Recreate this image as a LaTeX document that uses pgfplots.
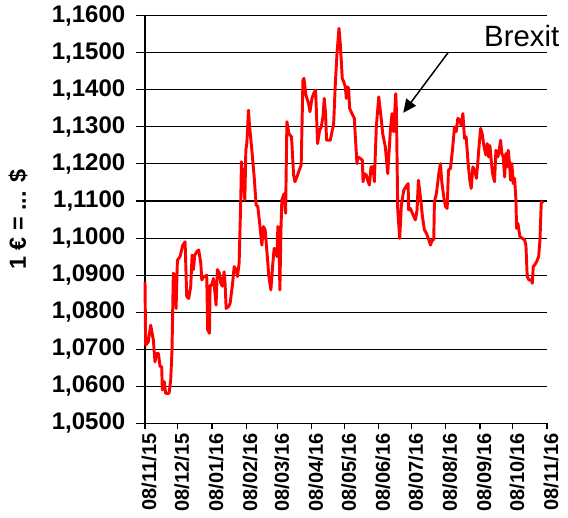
\documentclass[border=0pt]{standalone}
\usepackage{pgfplots}
\pgfplotsset{compat=1.18}
\usepackage{fontspec}
\setmainfont{Liberation Sans}
\usetikzlibrary{arrows.meta}
\pgfplotstableread{
day val
0 1.0882
0.6 1.0711
3.0 1.0720
5.2 1.0765
7.6 1.0725
9.1 1.0666
10.6 1.0689
12.2 1.0689
13.7 1.0653
15.2 1.0653
15.8 1.0590
17.6 1.0612
18.8 1.0581
21.9 1.0581
23.4 1.0617
24.6 1.0698
25.8 1.0905
27.1 1.0900
28.3 1.0810
29.5 1.0940
31.9 1.0950
34.3 1.0980
36.5 1.0990
38.0 1.0842
39.8 1.0837
41.6 1.0869
42.9 1.0954
44.1 1.0915
45.3 1.0954
47.1 1.0963
48.9 1.0968
50.8 1.0932
51.7 1.0887
53.2 1.0896
54.7 1.0896
56.2 1.0900
57.1 1.0752
58.7 1.0743
59.3 1.0873
60.8 1.0873
62.3 1.0891
63.8 1.0850
64.7 1.0819
65.9 1.0915
67.8 1.0905
69.0 1.0878
70.5 1.0870
72.0 1.0909
72.9 1.0878
73.9 1.0810
76.0 1.0815
77.5 1.0824
79.6 1.0873
81.2 1.0923
83.0 1.0915
84.2 1.0896
85.7 1.0932
87.2 1.1103
87.8 1.1206
89.7 1.1147
90.9 1.1103
91.8 1.1237
92.7 1.1255
94.2 1.1345
95.1 1.1305
97.3 1.1237
99.4 1.1165
101.2 1.1089
102.7 1.1085
104.9 1.1026
106.4 1.0981
107.9 1.1031
109.4 1.1022
111.6 1.0941
112.8 1.0896
114.6 1.0860
116.4 1.0932
117.6 1.0972
119.1 1.0968
120.1 1.0950
121.0 1.1031
121.9 1.1022
122.8 1.0860
123.7 1.1013
124.6 1.1103
126.7 1.1120
128.0 1.1067
129.2 1.1314
131.0 1.1282
133.4 1.1273
135.3 1.1170
136.5 1.1152
138.3 1.1165
140.4 1.1183
142.2 1.1197
143.8 1.1426
144.7 1.1431
146.5 1.1386
148.9 1.1363
150.2 1.1341
152.0 1.1377
153.5 1.1390
155.3 1.1399
155.9 1.1354
157.1 1.1255
159.0 1.1291
160.5 1.1300
162.0 1.1327
163.2 1.1377
164.4 1.1336
165.3 1.1264
167.5 1.1264
168.7 1.1264
170.5 1.1291
171.7 1.1305
173.3 1.1417
174.8 1.1498
176.6 1.1566
177.8 1.1525
179.6 1.1431
180.9 1.1422
182.4 1.1408
183.3 1.1377
184.5 1.1408
185.4 1.1404
186.3 1.1350
188.4 1.1336
190.6 1.1323
191.5 1.1273
193.0 1.1201
193.6 1.1219
196.0 1.1215
197.9 1.1210
198.5 1.1152
199.7 1.1174
201.5 1.1170
202.7 1.1156
204.3 1.1143
205.8 1.1192
207.6 1.1192
208.8 1.1152
210.6 1.1300
212.8 1.1381
214.9 1.1327
216.4 1.1282
218.8 1.1246
221.0 1.1174
223.4 1.1291
224.9 1.1336
226.4 1.1287
228.3 1.1390
228.9 1.1345
230.1 1.1076
231.9 1.0999
233.4 1.1089
235.6 1.1129
237.4 1.1138
239.5 1.1147
240.1 1.1076
241.6 1.1080
244.1 1.1062
246.2 1.1049
247.7 1.1076
248.9 1.1156
250.8 1.1111
252.6 1.1058
254.4 1.1022
256.2 1.1013
258.4 1.0995
259.9 1.0981
261.4 1.0995
262.9 1.0995
263.5 1.1098
265.3 1.1120
267.5 1.1174
269.0 1.1201
270.2 1.1152
272.0 1.1111
273.6 1.1085
275.1 1.1080
276.3 1.1183
278.1 1.1188
279.9 1.1237
281.8 1.1300
283.3 1.1287
284.8 1.1323
286.6 1.1318
287.8 1.1305
289.4 1.1336
290.9 1.1269
292.4 1.1273
294.2 1.1201
295.7 1.1156
297.0 1.1134
298.5 1.1192
300.0 1.1183
301.8 1.1161
303.6 1.1228
305.5 1.1296
307.0 1.1282
308.5 1.1250
310.3 1.1224
311.6 1.1255
312.8 1.1219
314.0 1.1250
315.2 1.1210
316.4 1.1174
318.2 1.1152
319.5 1.1237
321.3 1.1219
322.5 1.1237
323.7 1.1264
324.9 1.1228
326.1 1.1219
327.4 1.1165
328.6 1.1228
329.8 1.1192
330.7 1.1237
331.9 1.1201
332.8 1.1156
334.0 1.1201
335.3 1.1147
336.5 1.1161
337.7 1.1103
338.3 1.1026
339.5 1.1040
341.3 1.1004
343.5 1.0999
345.6 1.0995
346.8 1.0981
348.0 1.0896
349.5 1.0887
351.7 1.0887
352.6 1.0878
353.5 1.0923
354.7 1.0927
356.5 1.0936
358.4 1.0950
359.6 1.0995
360.8 1.1098
362.6 1.1094
}\eurusd
\begin{document}
\begin{tikzpicture}
\begin{axis}[
  name=ax,
  scale only axis,
  width=301.5pt, height=305.7pt,
  xmin=0, xmax=366, ymin=1.05, ymax=1.16,
  axis x line*=bottom, axis y line*=left,
  axis line style={black, line width=1pt},
  xtick={0,30,61,92,121,152,182,213,243,274,305,335,366},
  xticklabels={08/11/15,08/12/15,08/01/16,08/02/16,08/03/16,08/04/16,08/05/16,08/06/16,08/07/16,08/08/16,08/09/16,08/10/16,08/11/16},
  ytick distance=0.01,
  tick align=outside,
  xtick style={black, line width=0.8pt, /pgfplots/major tick length=4pt},
  ytick style={black, line width=0.8pt, /pgfplots/major tick length=6.5pt},
  ymajorgrids,
  grid style={black, line width=0.8pt},
  /pgf/number format/assume math mode=true,
  yticklabel style={font=\fontsize{18}{20}\selectfont\bfseries, xshift=-7pt, /pgf/number format/.cd, fixed, fixed zerofill, precision=4, use comma},
  xticklabel style={font=\fontsize{15}{17}\selectfont\bfseries, rotate=90, anchor=east, yshift=-3pt},
  ylabel={1 € = ... \$},
  every axis y label/.style={at={(axis description cs:-0.316,0.5)}, rotate=90, anchor=center, font=\fontsize{17.5}{19}\selectfont\bfseries},
  clip=false,
]
\addplot[color=red, line width=2.2pt, line join=round, mark=none] table[x=day, y=val] {\eurusd};
\node[anchor=base west, font=\fontsize{22}{24}\selectfont, inner sep=0pt] at (axis cs:308.6,1.1516) {Brexit};
\draw[line width=1.1pt, -{Triangle[length=10pt, width=9pt]}] (axis cs:276.1,1.1501) -- (axis cs:235.1,1.1338);
\end{axis}
\pgfresetboundingbox
\path[use as bounding box] ([shift={(-108.75pt,-70.3pt)}]ax.south west) rectangle ([shift={(317.25pt,317.5pt)}]ax.south west);
\end{tikzpicture}
\end{document}
